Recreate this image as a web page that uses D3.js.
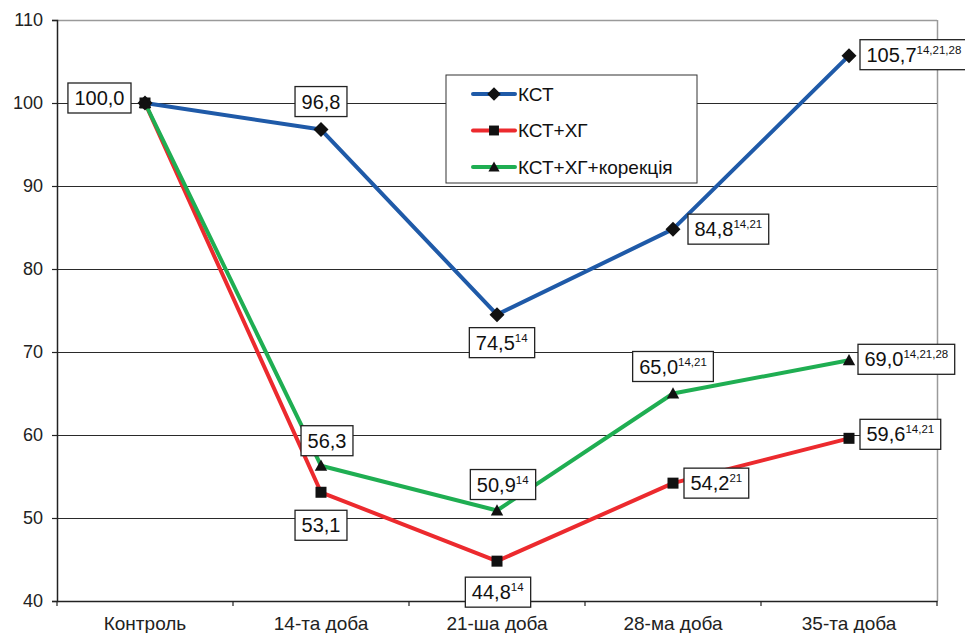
<!DOCTYPE html>
<html>
<head>
<meta charset="utf-8">
<script src="https://cdn.jsdelivr.net/npm/d3@7"></script>
<style>
  html, body { margin: 0; padding: 0; background: #fff; }
  svg { display: block; font-family: "Liberation Sans", Arial, sans-serif; }
</style>
</head>
<body>
<svg id="chart" width="965" height="633"></svg>
<script>
// Periods of observation
const categories = ["Контроль", "14-та доба", "21-ша доба", "28-ма доба", "35-та доба"];

// Series values (% of control)
const kst        = [100.0, 96.8, 74.5, 84.8, 105.7];
const kstHg      = [100.0, 53.1, 44.8, 54.2, 59.6];
const kstHgCorr  = [100.0, 56.3, 50.9, 65.0, 69.0];

// Significance superscripts for each value label
const kstSup       = ["", "", "14", "14,21", "14,21,28"];
const kstHgSup     = ["", "", "14", "21", "14,21"];
const kstHgCorrSup = ["", "", "14", "14,21", "14,21,28"];

const seriesNames = ["КСТ", "КСТ+ХГ", "КСТ+ХГ+корекція"];
const yTicks = [40, 50, 60, 70, 80, 90, 100, 110];

// Label placement: [side, dx, dy] relative to the point
const kstPlace       = [["left", -14, -5], ["center", 0, -28], ["center", 5, 28], ["right", 15, 0], ["right", 11, -1]];
const kstHgPlace     = [null, ["center", 0, 33], ["center", 1, 31], ["right", 11, 0], ["right", 11, -4]];
const kstHgCorrPlace = [null, ["center", 6, -25], ["center", 6, -26], ["center", 0, -27], ["right", 9, -1]];

const series = [
  { name: seriesNames[0], values: kst,       sup: kstSup,       place: kstPlace,       color: "#1f5aa8", marker: "diamond" },
  { name: seriesNames[1], values: kstHg,     sup: kstHgSup,     place: kstHgPlace,     color: "#ec2a2e", marker: "square" },
  { name: seriesNames[2], values: kstHgCorr, sup: kstHgCorrSup, place: kstHgCorrPlace, color: "#1fae52", marker: "triangle" }
];

const svg = d3.select("#chart");
const plotL = 57, plotR = 937, plotT = 20, plotB = 601;
const FONT = "Liberation Sans, Arial, sans-serif";

const x = d3.scaleBand().domain(categories).range([plotL, plotR]);
const y = d3.scaleLinear().domain([40, 110]).range([plotB, plotT]);
const cx = c => x(c) + x.bandwidth() / 2;

// Plot area frame (top and right edges in light grey)
svg.append("line").attr("x1", plotL).attr("x2", plotR).attr("y1", plotT + 0.5).attr("y2", plotT + 0.5)
  .attr("stroke", "#9a9a9a").attr("stroke-width", 1.5);
svg.append("line").attr("x1", plotR + 0.5).attr("x2", plotR + 0.5).attr("y1", plotT).attr("y2", plotB)
  .attr("stroke", "#9a9a9a").attr("stroke-width", 1.5);

// Horizontal gridlines
svg.append("g").selectAll("line").data(yTicks.filter(t => t > 40 && t < 110)).join("line")
  .attr("x1", plotL).attr("x2", plotR)
  .attr("y1", d => Math.round(y(d)) + 0.5).attr("y2", d => Math.round(y(d)) + 0.5)
  .attr("stroke", "#2a2a2a").attr("stroke-width", 1);

// Y axis
const yAxis = svg.append("g").attr("transform", `translate(${plotL},0)`)
  .call(d3.axisLeft(y).tickValues(yTicks).tickSize(5).tickPadding(9).tickFormat(d3.format("d")));
yAxis.select(".domain").attr("stroke", "#222").attr("stroke-width", 1.5);
yAxis.selectAll(".tick line").attr("stroke", "#222").attr("stroke-width", 1.2);
yAxis.selectAll("text").attr("font-size", 18).attr("fill", "#222").attr("font-family", FONT);

// X axis with ticks between categories
const xAxis = svg.append("g").attr("transform", `translate(0,${plotB})`)
  .call(d3.axisBottom(x).tickSize(0).tickPadding(16));
xAxis.select(".domain").attr("stroke", "#222").attr("stroke-width", 1.5);
xAxis.selectAll("text").attr("font-size", 19).attr("fill", "#222").attr("font-family", FONT);
xAxis.selectAll(".between").data(d3.range(categories.length + 1)).join("line")
  .attr("x1", i => plotL + i * x.bandwidth()).attr("x2", i => plotL + i * x.bandwidth())
  .attr("y1", 0).attr("y2", 5).attr("stroke", "#222").attr("stroke-width", 1.2);

// Markers
function drawMarker(g, type, px, py, size) {
  if (type === "diamond") {
    const s = size * 0.75;
    g.append("path").attr("d", `M${px},${py - s}L${px + s},${py}L${px},${py + s}L${px - s},${py}Z`).attr("fill", "#111");
  } else if (type === "square") {
    const s = size * 0.55;
    g.append("rect").attr("x", px - s).attr("y", py - s).attr("width", 2 * s).attr("height", 2 * s).attr("fill", "#111");
  } else {
    const s = size * 0.62;
    g.append("path").attr("d", `M${px},${py - s}L${px + s},${py + s * 0.8}L${px - s},${py + s * 0.8}Z`).attr("fill", "#111");
  }
}

const line = d3.line().x((d, i) => cx(categories[i])).y(d => y(d));
const linesG = svg.append("g");
series.forEach(s => {
  linesG.append("path").datum(s.values).attr("d", line)
    .attr("fill", "none").attr("stroke", s.color).attr("stroke-width", 4).attr("stroke-linejoin", "round");
});
const markersG = svg.append("g");
series.forEach(s => {
  s.values.forEach((v, i) => drawMarker(markersG, s.marker, cx(categories[i]), y(v), 10));
});

// Value labels in boxes
const fmt = v => d3.format(".1f")(v).replace(".", ",");
const labelsG = svg.append("g");
series.forEach(s => {
  s.values.forEach((v, i) => {
    const p = s.place[i];
    if (!p) return;
    const g = labelsG.append("g");
    const t = g.append("text").attr("font-size", 20).attr("fill", "#111").attr("font-family", FONT);
    t.append("tspan").text(fmt(v));
    if (s.sup[i]) t.append("tspan").attr("font-size", 11.5).attr("dy", -8).text(s.sup[i]);
    const bb = t.node().getBBox();
    const w = bb.width + 13, h = 30;
    const px = cx(categories[i]), py = y(v);
    let bx;
    if (p[0] === "left") bx = px + p[1] - w;
    else if (p[0] === "right") bx = px + p[1];
    else bx = px + p[1] - w / 2;
    const by = py + p[2] - h / 2;
    g.insert("rect", "text").attr("x", bx).attr("y", by).attr("width", w).attr("height", h)
      .attr("fill", "#fff").attr("stroke", "#222").attr("stroke-width", 1.3);
    t.attr("x", bx + 6.5).attr("y", by + 22);
  });
});

// Legend
const lg = svg.append("g");
lg.append("rect").attr("x", 446).attr("y", 75).attr("width", 251).attr("height", 108)
  .attr("fill", "#fff").attr("stroke", "#333").attr("stroke-width", 1);
series.forEach((s, i) => {
  const ly = 94 + i * 36.5;
  lg.append("line").attr("x1", 473).attr("x2", 515).attr("y1", ly).attr("y2", ly)
    .attr("stroke", s.color).attr("stroke-width", 4).attr("stroke-linecap", "round");
  drawMarker(lg, s.marker, 494, ly, 9);
  lg.append("text").attr("x", 518).attr("y", ly + 6.5).attr("font-size", 19).attr("fill", "#111")
    .attr("font-family", FONT).text(s.name);
});
</script>
</body>
</html>
